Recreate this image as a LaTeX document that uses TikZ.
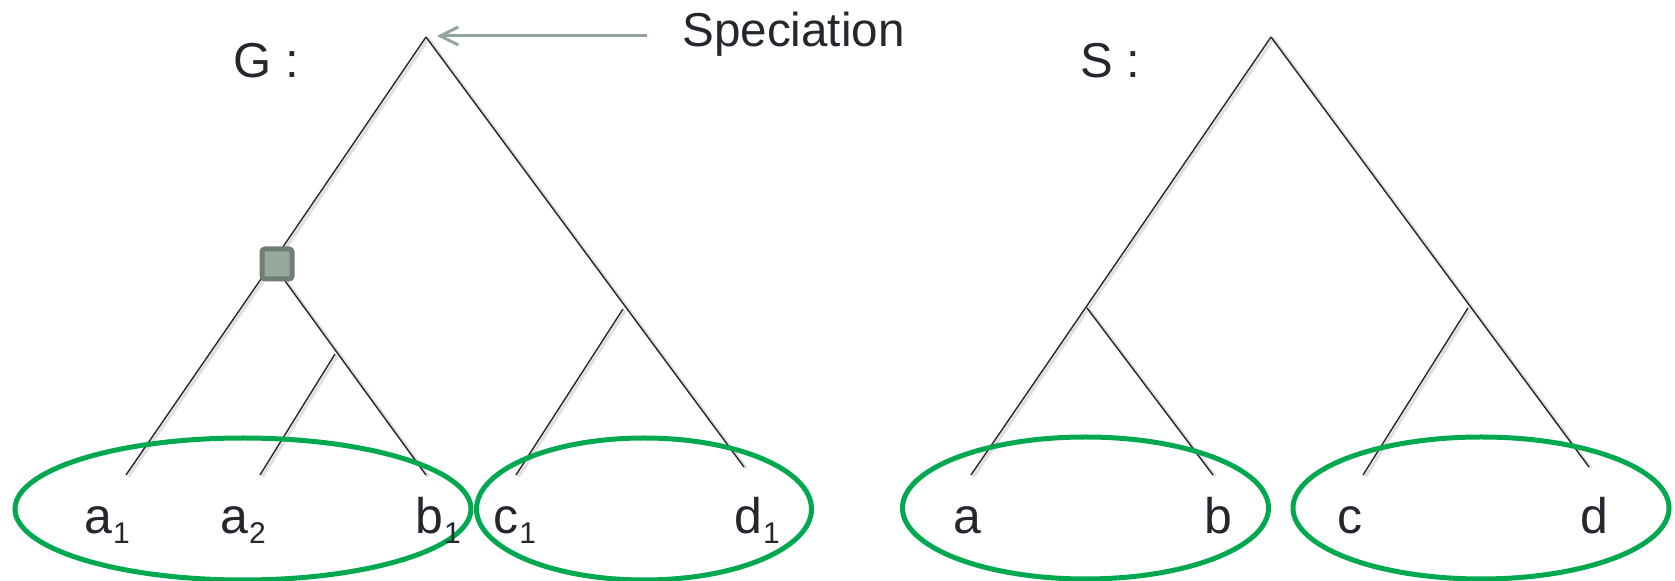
\documentclass[tikz,border=0pt]{standalone}
\usepackage{fontspec}
\setmainfont{Liberation Sans}
\usetikzlibrary{arrows.meta,shapes.geometric}
\definecolor{ink}{RGB}{38,38,46}
\definecolor{grp}{RGB}{0,168,80}
\definecolor{arrowc}{RGB}{145,165,155}
\definecolor{dupout}{RGB}{112,125,115}
\definecolor{dupin}{RGB}{152,168,156}
% leaf label with a lowered index
\newcommand{\lbl}[2]{#1\hspace{0.5pt}\raisebox{-5pt}{\fontsize{15}{15}\selectfont #2}}
\begin{document}
\begin{tikzpicture}[x=0.5pt,y=-0.5pt,
  branch/.style={draw=ink, line width=0.7pt,
    preaction={draw=black!12, line width=1.6pt, transform canvas={shift={(1.2pt,-0.8pt)}}}},
  group/.style={draw=grp, line width=2.5pt, ellipse, inner sep=0pt},
  leaf/.style={anchor=base west, inner sep=0pt, text=ink, font=\fontsize{25}{25}\selectfont},
  title/.style={anchor=base west, inner sep=0pt, text=ink, font=\fontsize{24.5}{25}\selectfont},
  dupbox/.style={draw=dupout, fill=dupin, line width=2.5pt, minimum size=15pt,
    inner sep=0pt, rounded corners=1.5pt}
]
\useasboundingbox (0,0) rectangle (1675,581);

% ---------- gene tree G ----------
\coordinate (Groot) at (426,37);
\coordinate (Gdup)  at (272,263);
\coordinate (Gab)   at (335,354);
\coordinate (Gcd)   at (623,309);
\coordinate (Ga1)   at (126,475);
\coordinate (Ga2)   at (260,475);
\coordinate (Gb1)   at (426,475);
\coordinate (Gc1)   at (516,475);
\coordinate (Gd1)   at (744,467);

\draw[branch] (Groot) -- (Gdup);
\draw[branch] (Gdup) -- (Ga1);
\draw[branch] (Gdup) -- (Gb1);
\draw[branch] (Gab) -- (Ga2);
\draw[branch] (Groot) -- (Gd1);
\draw[branch] (Gcd) -- (Gc1);

\node[dupbox] (dup) at (277,264) {};

% ---------- species tree S ----------
\coordinate (Sroot) at (1271,37);
\coordinate (Sab)   at (1087,308);
\coordinate (Scd)   at (1468,308);
\coordinate (Sa)    at (971,475);
\coordinate (Sb)    at (1213,475);
\coordinate (Sc)    at (1363,475);
\coordinate (Sd)    at (1589,467);

\draw[branch] (Sroot) -- (Sa);
\draw[branch] (Sroot) -- (Sd);
\draw[branch] (Sab) -- (Sb);
\draw[branch] (Scd) -- (Sc);

% ---------- leaf groups ----------
\node[group, minimum width=228pt, minimum height=71pt] (grpAB) at (243,509) {};
\node[group, minimum width=167.5pt, minimum height=71pt] (grpCD) at (644,509) {};
\node[group, minimum width=183pt, minimum height=71pt] (grpSab) at (1085.5,508) {};
\node[group, minimum width=188pt, minimum height=71pt] (grpScd) at (1481,508) {};

% ---------- labels ----------
\node[title] (Glab) at (233,78) {G :};
\node[title] (Slab) at (1080,78) {S :};
\node[anchor=base west, inner sep=0pt, text=ink, font=\fontsize{23.8}{24}\selectfont] (spec) at (682,47) {Speciation};

\node[leaf] (la1) at (84,534)  {\lbl{a}{1}};
\node[leaf] (la2) at (220,534) {\lbl{a}{2}};
\node[leaf] (lb1) at (415,534) {\lbl{b}{1}};
\node[leaf] (lc1) at (493,534) {\lbl{c}{1}};
\node[leaf] (ld1) at (734,534) {\lbl{d}{1}};

\node[leaf] (la) at (953,534)  {a};
\node[leaf] (lb) at (1204,534) {b};
\node[leaf] (lc) at (1337,534) {c};
\node[leaf] (ld) at (1580,534) {d};

% ---------- speciation pointer ----------
\coordinate (tail) at (647,36);
\draw[arrowc, line width=1.5pt, -{Straight Barb[length=9pt,width=9pt]}, shorten >=5.5pt]
  (tail) -- (Groot |- tail);
\end{tikzpicture}
\end{document}
